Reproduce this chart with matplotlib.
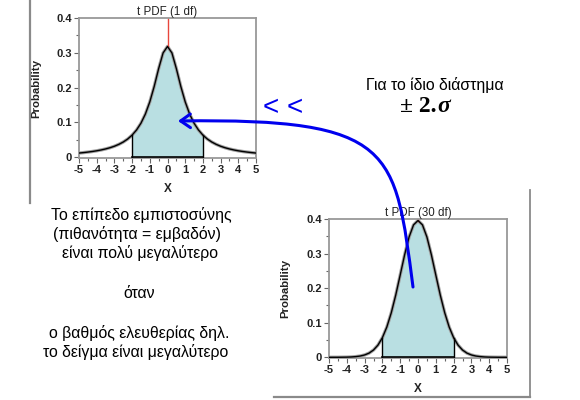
import matplotlib
matplotlib.use("Agg")
import matplotlib.pyplot as plt
import numpy as np
from matplotlib.path import Path
from matplotlib.patches import FancyArrowPatch
from matplotlib.lines import Line2D

# ---------------- data ----------------
x_vals = [-5, -4.75, -4.5, -4.25, -4, -3.75, -3.5, -3.25, -3, -2.75, -2.5, -2.25,
          -2, -1.75, -1.5, -1.25, -1, -0.75, -0.5, -0.25, 0,
          0.25, 0.5, 0.75, 1, 1.25, 1.5, 1.75, 2, 2.25, 2.5, 2.75, 3,
          3.25, 3.5, 3.75, 4, 4.25, 4.5, 4.75, 5]
t1_half = [0.3183, 0.2996, 0.2546, 0.2037, 0.1592, 0.1242, 0.0979, 0.0784, 0.0637,
           0.0525, 0.0439, 0.0372, 0.0318, 0.0275, 0.0240, 0.0211, 0.0187, 0.0167,
           0.0150, 0.0135, 0.0122]
t30_half = [0.3956, 0.3830, 0.3479, 0.2966, 0.2380, 0.1801, 0.1290, 0.0877, 0.0568,
            0.0353, 0.0211, 0.0121, 0.0068, 0.0037, 0.0020, 0.0010, 0.0005, 0.0003,
            0.0001, 0.0001, 0.0000]
t1_pdf = t1_half[::-1] + t1_half[1:]
t30_pdf = t30_half[::-1] + t30_half[1:]
interval = [-2, 2]
titles = ["t PDF (1 df)", "t PDF (30 df)"]
y_ticks = [0, 0.1, 0.2, 0.3, 0.4]
y_ticklabels = ["0", "0.1", "0.2", "0.3", "0.4"]
x_ticks = [-5, -4, -3, -2, -1, 0, 1, 2, 3, 4, 5]
x_ticklabels = ["-5", "-4", "-3", "-2", "-1", "0", "1", "2", "3", "4", "5"]

left_text = ["Το επίπεδο εμπιστοσύνης", "(πιθανότητα = εμβαδόν)", "είναι πολύ μεγαλύτερο",
             "όταν", "ο βαθμός ελευθερίας δηλ.", "το δείγμα είναι μεγαλύτερο"]
right_text = "Για το ίδιο διάστημα"

W, H = 580, 400
fig = plt.figure(figsize=(5.8, 4.0), dpi=100)
plt.rcParams['font.family'] = ['Liberation Sans', 'DejaVu Sans']

def fx(px):
    return px / W

def fy(py):
    return 1 - py / H

def panel(rect_px, yv, title, fill_col="#b9dfe2"):
    l, r, t, b = rect_px
    ax = fig.add_axes([fx(l), fy(b), (r - l) / W, (b - t) / H])
    xa = np.array(x_vals)
    ya = np.array(yv)
    m = (xa >= interval[0]) & (xa <= interval[1])
    ax.fill_between(xa[m], 0, ya[m], color=fill_col, lw=0, zorder=1)
    ax.plot(xa, ya, color="#a0a0a0", lw=2.4, zorder=2, solid_capstyle="butt")
    ax.plot(xa, ya, color="black", lw=1.0, zorder=3)
    for xi in interval:
        yi = ya[xa == xi][0]
        ax.plot([xi, xi], [0, yi], color="black", lw=1.0, zorder=3)
    ax.plot(interval, [0, 0], color="black", lw=1.2, zorder=3)
    peak = ya.max()
    ax.plot([0, 0], [peak, 0.4], color="#e8463c", lw=1.0, zorder=2)
    ax.set_xlim(-5, 5)
    ax.set_ylim(-0.002, 0.4)
    ax.set_xticks(x_ticks)
    ax.set_xticklabels(x_ticklabels)
    ax.set_yticks(y_ticks)
    ax.set_yticklabels(y_ticklabels)
    ax.set_xticks(np.arange(-5, 5.01, 0.5), minor=True)
    ax.set_yticks(np.arange(0, 0.401, 0.05), minor=True)
    for sp in ax.spines.values():
        sp.set_color("#999999")
        sp.set_linewidth(1.3)
    ax.tick_params(which="both", direction="out", color="#666666", width=0.8,
                   labelsize=8, pad=1.5)
    ax.tick_params(which="major", length=3.5)
    ax.tick_params(which="minor", length=2)
    for lab in ax.get_xticklabels() + ax.get_yticklabels():
        lab.set_fontweight("bold")
        lab.set_color("#222222")
    ax.set_title(title, fontsize=8.3, pad=2.5, color="#222222")
    ax.set_ylabel("Probability", fontsize=8.2, fontweight="bold", color="#222222")
    ax.yaxis.set_label_coords(-0.215, 0.5)
    ax.set_xlabel("X", fontsize=8.5, fontweight="bold", color="#222222")
    ax.xaxis.set_label_coords(0.5, -0.18)
    return ax

ax1 = panel((79, 256, 18, 158), t1_pdf, titles[0])
ax2 = panel((329, 507, 219, 358), t30_pdf, titles[1])

# screenshot frame lines
frame_col = "#8a8a8a"
fig.add_artist(Line2D([fx(30), fx(30)], [fy(0), fy(203)], color=frame_col, lw=1.6))
fig.add_artist(Line2D([fx(530), fx(530)], [fy(190), fy(397)], color=frame_col, lw=1.3))
fig.add_artist(Line2D([fx(274), fx(530)], [fy(397), fy(397)], color=frame_col, lw=1.6))

# left explanatory text
ys = [215, 234, 253, 293, 333, 352]
xs = [141, 137, 140, 139, 139, 136]
for t, xx, yy in zip(left_text, xs, ys):
    fig.text(fx(xx), fy(yy), t, ha="center", va="center", fontsize=11.4, color="black")

fig.text(fx(435), fy(85), right_text, ha="center", va="center", fontsize=11.4, color="black")
fig.text(fx(437), fy(106), "± 2.", ha="right", va="center", fontsize=17,
         family="Liberation Serif", fontweight="bold")
fig.text(fx(437), fy(106), "σ", ha="left", va="center", fontsize=17,
         family="Liberation Serif", fontweight="bold", style="italic")
fig.text(fx(283), fy(108), "< <", ha="center", va="center", fontsize=20, color="#0000ee")

# curved arrow
pts = [(413, 287), (395, 150), (395, 118), (178, 121)]
verts = [(fx(a), fy(b)) for a, b in pts]
path = Path(verts, [Path.MOVETO, Path.CURVE4, Path.CURVE4, Path.CURVE4])
arrow = FancyArrowPatch(path=path, arrowstyle="->,head_length=0.5,head_width=0.35",
                        mutation_scale=14, lw=2.2, color="#0000ee",
                        transform=fig.transFigure, zorder=10)
fig.add_artist(arrow)

fig.savefig("out.png", dpi=100)
